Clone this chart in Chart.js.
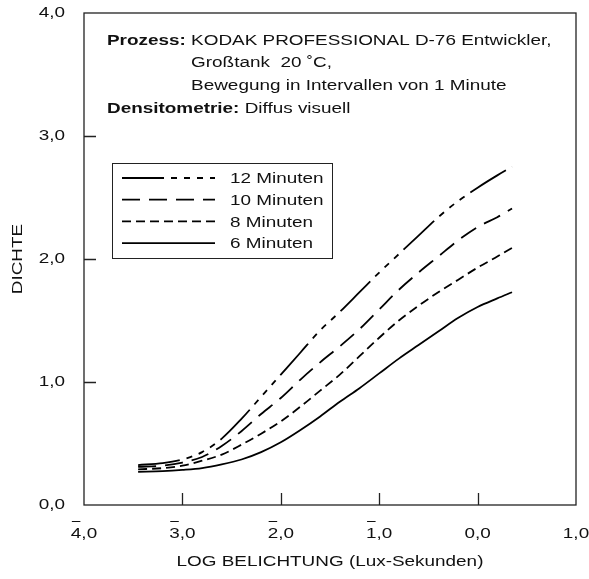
<!DOCTYPE html>
<html lang="de">
<head>
  <meta charset="UTF-8" />
  <title>D-76 Schwärzungskurven</title>
  <script src="https://cdn.jsdelivr.net/npm/chart.js"></script>
  <style>
    html, body { margin: 0; padding: 0; background: #fff; }
    #wrap { width: 589px; height: 579px; position: relative; }
  </style>
</head>
<body>
  <div id="wrap"><canvas id="curves"></canvas></div>

  <script>
    // Data
    const logE = [-3.45, -3.2, -3.0, -2.8, -2.6, -2.4, -2.2, -2.0, -1.8, -1.6, -1.4, -1.2, -1.0, -0.8, -0.6, -0.4, -0.2, 0.0, 0.2, 0.35];
    const dichte12 = [0.325, 0.34, 0.37, 0.43, 0.54, 0.70, 0.88, 1.06, 1.24, 1.42, 1.57, 1.73, 1.89, 2.04, 2.19, 2.34, 2.47, 2.58, 2.68, 2.75];
    const dichte10 = [0.31, 0.32, 0.345, 0.39, 0.48, 0.60, 0.74, 0.87, 1.02, 1.16, 1.29, 1.43, 1.59, 1.75, 1.89, 2.02, 2.15, 2.26, 2.34, 2.41];
    const dichte8 = [0.29, 0.30, 0.32, 0.36, 0.41, 0.49, 0.58, 0.68, 0.80, 0.93, 1.06, 1.21, 1.36, 1.50, 1.62, 1.73, 1.83, 1.93, 2.02, 2.09];
    const dichte6 = [0.27, 0.275, 0.285, 0.30, 0.33, 0.37, 0.43, 0.51, 0.61, 0.72, 0.84, 0.95, 1.07, 1.19, 1.30, 1.41, 1.52, 1.61, 1.68, 1.73];
    const seriesLabels = ['12 Minuten', '10 Minuten', '8 Minuten', '6 Minuten'];
    const xTicks = [-4, -3, -2, -1, 0, 1];
    const yTicks = [0, 1, 2, 3, 4];

    const FONT = '"Liberation Sans", Arial, sans-serif';
    const FS = 15.5;
    const INK = '#111';
    const WIDE = 1.22;   // the original lettering is set wider than Arial

    const canvas = document.getElementById('curves');
    const c2d = canvas.getContext('2d');
    const rawFill = c2d.fillText;
    const rawMeasure = c2d.measureText;
    c2d.fillText = function (t, x, y, mw) {
      this.save();
      this.translate(x, y);
      this.scale(WIDE, 1);
      if (mw === undefined) rawFill.call(this, t, 0, 0);
      else rawFill.call(this, t, 0, 0, mw / WIDE);
      this.restore();
    };
    c2d.measureText = function (t) {
      const m = rawMeasure.call(this, t);
      return {
        width: m.width * WIDE,
        actualBoundingBoxLeft: m.actualBoundingBoxLeft * WIDE,
        actualBoundingBoxRight: m.actualBoundingBoxRight * WIDE,
        actualBoundingBoxAscent: m.actualBoundingBoxAscent,
        actualBoundingBoxDescent: m.actualBoundingBoxDescent,
        fontBoundingBoxAscent: m.fontBoundingBoxAscent,
        fontBoundingBoxDescent: m.fontBoundingBoxDescent
      };
    };

    const dashes = [
      [42, 7, 6, 7, 6, 7, 6, 7],
      [18, 9],
      [9, 5],
      []
    ];

    function pts(ys) {
      return logE.map((x, i) => ({ x: x, y: ys[i] }));
    }

    const datasets = [dichte12, dichte10, dichte8, dichte6].map((ys, i) => ({
      label: seriesLabels[i],
      data: pts(ys),
      borderColor: '#000',
      borderWidth: 1.8,
      borderDash: dashes[i],
      pointRadius: 0,
      showLine: true,
      fill: false,
      cubicInterpolationMode: 'monotone'
    }));

    // frame, inward tick marks, bars over negative characteristics, legend, notes
    const decor = {
      id: 'decor',
      afterDraw(chart) {
        const ctx = chart.ctx;
        const a = chart.chartArea;
        const xs = chart.scales.x, ys = chart.scales.y;
        ctx.save();
        ctx.strokeStyle = '#222';
        ctx.lineWidth = 1.3;
        ctx.strokeRect(a.left, a.top, a.right - a.left, a.bottom - a.top);
        ctx.beginPath();
        xTicks.slice(1, -1).forEach(v => {
          const px = Math.round(xs.getPixelForValue(v)) + 0.5;
          ctx.moveTo(px, a.bottom);
          ctx.lineTo(px, a.bottom - 12);
        });
        yTicks.slice(1, -1).forEach(v => {
          const py = Math.round(ys.getPixelForValue(v)) + 0.5;
          ctx.moveTo(a.left, py);
          ctx.lineTo(a.left + 12, py);
        });
        ctx.stroke();

        ctx.font = FS + 'px ' + FONT;
        ctx.lineWidth = 1.2;
        ctx.strokeStyle = INK;
        ctx.beginPath();
        xTicks.filter(v => v < 0).forEach(v => {
          const px = xs.getPixelForValue(v);
          const w = ctx.measureText(String(-v) + ',0').width;
          const d = ctx.measureText(String(-v)).width;
          const x0 = px - w / 2 + 1;
          ctx.moveTo(x0, a.bottom + 16.5);
          ctx.lineTo(x0 + d - 2, a.bottom + 16.5);
        });
        ctx.stroke();

        // notes
        ctx.fillStyle = INK;
        ctx.textBaseline = 'middle';
        ctx.font = 'bold ' + FS + 'px ' + FONT;
        ctx.fillText('Prozess:', 107, 41);
        ctx.fillText('Densitometrie:', 107, 109);
        const wP = ctx.measureText('Prozess: ').width;
        const wD = ctx.measureText('Densitometrie: ').width;
        ctx.font = FS + 'px ' + FONT;
        ctx.fillText('KODAK PROFESSIONAL D-76 Entwickler,', 107 + wP, 41);
        ctx.fillText('Großtank  20 ˚C,', 107 + wP, 63);
        ctx.fillText('Bewegung in Intervallen von 1 Minute', 107 + wP, 86);
        ctx.fillText('Diffus visuell', 107 + wD, 109);

        // legend
        ctx.lineWidth = 1;
        ctx.strokeStyle = '#222';
        ctx.strokeRect(112.5, 163.5, 220, 95);
        chart.data.datasets.forEach((ds, i) => {
          const y = 178 + i * 21.7;
          ctx.beginPath();
          ctx.setLineDash(ds.borderDash);
          ctx.lineWidth = 1.8;
          ctx.strokeStyle = '#000';
          ctx.moveTo(122, y);
          ctx.lineTo(215, y);
          ctx.stroke();
          ctx.setLineDash([]);
          ctx.fillText(ds.label, 230, y + 1);
        });
        ctx.restore();
      }
    };

    new Chart(canvas, {
      type: 'scatter',
      data: { datasets: datasets },
      plugins: [decor],
      options: {
        responsive: true,
        maintainAspectRatio: false,
        animation: false,
        layout: { padding: { top: 13, right: 13, left: 0, bottom: 0 } },
        plugins: {
          legend: { display: false },
          tooltip: { enabled: false }
        },
        scales: {
          x: {
            type: 'linear',
            min: -4,
            max: 1,
            afterBuildTicks: s => { s.ticks = xTicks.map(v => ({ value: v })); },
            afterFit: s => {
              s.height = 74;
              s.paddingLeft = 0;
              s.paddingRight = 0;
            },
            grid: { display: false, drawTicks: false },
            border: { display: false },
            ticks: {
              color: INK,
              font: { family: FONT, size: FS },
              padding: 19,
              maxRotation: 0,
              callback: v => Math.abs(v) + ',0'
            },
            title: {
              display: true,
              text: 'LOG BELICHTUNG (Lux-Sekunden)',
              color: INK,
              font: { family: FONT, size: FS },
              padding: { top: 0, bottom: 8 }
            }
          },
          y: {
            min: 0,
            max: 4,
            afterBuildTicks: s => { s.ticks = yTicks.map(v => ({ value: v })); },
            afterFit: s => {
              s.width = 84;
              s.paddingTop = 0;
              s.paddingBottom = 0;
            },
            grid: { display: false, drawTicks: false },
            border: { display: false },
            ticks: {
              color: INK,
              font: { family: FONT, size: FS },
              padding: 19,
              callback: v => v.toFixed(1).replace('.', ',')
            },
            title: {
              display: true,
              text: 'DICHTE',
              color: INK,
              font: { family: FONT, size: FS },
              padding: { top: 8, bottom: 0 }
            }
          }
        }
      }
    });
  </script>
</body>
</html>
